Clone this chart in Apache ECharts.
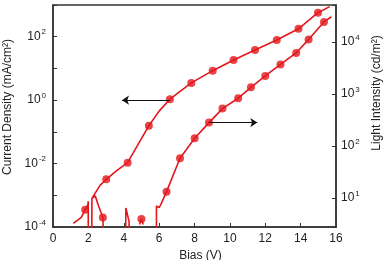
<!DOCTYPE html>
<html><head><meta charset="utf-8">
<script src="https://cdn.jsdelivr.net/npm/echarts@6/dist/echarts.min.js"></script>
<style>html,body{margin:0;padding:0;background:#fff}#c{width:384px;height:260px}</style>
</head><body><div id="c"></div>
<script>
// Bias (V) and current density (mA/cm^2); null breaks the trace
const currentV = [1.15, 1.6, 1.82, 1.97, 1.99, 2.0, null,
  2.19, 2.2, 2.39, 2.55, 2.82, 2.88, null,
  2.2, 2.67, 3.01, 3.6, 4.22, 4.94, 5.42, 6.0, 6.61, 7.82, 9.03, 10.21, 11.42, 12.65, 13.88, 14.98, 15.64, null,
  4.1, 4.12, 4.2, 4.3, 4.32, null,
  4.9, 5.0, 5.1];
const currentJ = [1.3e-4, 2.0e-4, 3.5e-4, 5e-4, 6.5e-4, 1e-5, null,
  1e-5, 8e-4, 9.5e-4, 5e-4, 2e-4, 1e-5, null,
  8e-4, 2.1e-3, 3.2e-3, 6e-3, 1.07e-2, 5.4e-2, 0.155, 0.45, 1.07, 3.5, 8.5, 18.5, 38, 79, 178, 570, 890, null,
  1e-5, 4e-4, 3.5e-4, 1.5e-4, 1e-5, null,
  1.2e-4, 1.8e-4, 1.2e-4];
const currentMarkV = [1.82, 2.82, 3.01, 4.22, 5.0, 5.42, 6.61, 7.82, 9.03, 10.21, 11.42, 12.65, 13.88, 14.98];
const currentMarkJ = [3.5e-4, 2.0e-4, 3.2e-3, 1.07e-2, 1.8e-4, 0.155, 1.07, 3.5, 8.5, 18.5, 38, 79, 178, 570];
// Bias (V) and light intensity (cd/m^2)
const lightV = [5.84, 5.85, 6.0, 6.1, 6.42, 7.18, 8.01, 8.82, 9.58, 10.47, 11.19, 12.0, 12.86, 13.75, 14.45, 15.32, 15.74];
const lightL = [0.1, 7.0, 6.5, 7.5, 13.2, 58, 141, 282, 525, 832, 1350, 2240, 3720, 6200, 11300, 24500, 30900];
const lightMarkV = [6.42, 7.18, 8.01, 8.82, 9.58, 10.47, 11.19, 12.0, 12.86, 13.75, 14.45, 15.32];
const lightMarkL = [13.2, 58, 141, 282, 525, 832, 1350, 2240, 3720, 6200, 11300, 24500];
// annotation arrows (from, to) in data units
const currentArrow = [[6.6, 1], [3.9, 1]];
const lightArrow = [[8.82, 282], [11.55, 282]];
// labelled exponents
const leftTickExps = [-4, -2, 0, 2];
const rightTickExps = [1, 2, 3, 4];

const RED = '#e3161c';
const FONT = 'Liberation Sans, Arial, sans-serif';
const TXT = '#222';
const toData = (xs, ys) => xs.map((x, i) => (x === null ? ['-', '-'] : [x, ys[i]]));
const expLabel = (list) => (v) => {
  const e = Math.log10(v), r = Math.round(e);
  if (Math.abs(e - r) > 0.01 || list.indexOf(r) < 0) return '';
  return '{b|10}{s|' + r + '}';
};
const rich = {
  b: { fontSize: 12, fontFamily: FONT, color: TXT },
  s: { fontSize: 8, fontFamily: FONT, color: TXT, padding: [0, 0, 9, 1] }
};
const axisLine = { show: true, lineStyle: { color: '#333', width: 1.5 } };
const tick = { show: true, inside: true, length: 4, lineStyle: { color: '#333', width: 1 } };
const arrowLine = (arr) => ({
  silent: true, symbol: ['none', 'arrow'], symbolSize: 7, label: { show: false },
  lineStyle: { color: '#111', width: 1, type: 'solid' }, itemStyle: { color: '#111' },
  data: [[{ coord: arr[0] }, { coord: arr[1] }]]
});

const chart = echarts.init(document.getElementById('c'));
chart.setOption({
  animation: false,
  backgroundColor: '#fff',
  grid: { left: 53, right: 48, top: 5, bottom: 33, show: true, borderColor: '#333', borderWidth: 1.5,
    containLabel: false, outerBoundsMode: 'none' },
  xAxis: {
    type: 'value', min: 0, max: 16, interval: 2,
    axisLine, axisTick: tick, splitLine: { show: false },
    axisLabel: { fontSize: 12, fontFamily: FONT, color: TXT, margin: 6 },
    name: 'Bias (V)', nameLocation: 'middle', nameGap: 19,
    nameTextStyle: { fontSize: 12, fontFamily: FONT, color: TXT, padding: [0, 0, 0, 12] }
  },
  yAxis: [{
    type: 'log', logBase: 10, min: 1e-4, max: 1e3, interval: 1,
    axisLine, axisTick: tick, splitLine: { show: false }, minorTick: { show: false },
    axisLabel: { formatter: expLabel(leftTickExps), rich, margin: 7 },
    name: 'Current Density (mA/cm²)', nameLocation: 'middle', nameGap: 37, nameRotate: 90,
    nameTextStyle: { fontSize: 12, fontFamily: FONT, color: TXT, padding: [0, 0, 0, 18] }
  }, {
    type: 'log', logBase: 10, min: 2.75, max: 52000, position: 'right',
    axisLine, axisTick: tick, splitLine: { show: false },
    axisLabel: { formatter: expLabel(rightTickExps), rich, margin: 5 },
    name: 'Light Intensity (cd/m²)', nameLocation: 'middle', nameGap: 31, nameRotate: 90,
    nameTextStyle: { fontSize: 12, fontFamily: FONT, color: TXT, padding: [0, 0, 0, 46] }
  }],
  series: [{
    type: 'line', yAxisIndex: 0, data: toData(currentV, currentJ), showSymbol: false,
    lineStyle: { color: RED, width: 1.6 }, itemStyle: { color: RED }, clip: true,
    markLine: arrowLine(currentArrow)
  }, {
    type: 'scatter', yAxisIndex: 0, data: toData(currentMarkV, currentMarkJ),
    symbol: 'circle', symbolSize: 8, itemStyle: { color: RED }
  }, {
    type: 'line', yAxisIndex: 1, data: toData(lightV, lightL), showSymbol: false,
    lineStyle: { color: RED, width: 1.6 }, itemStyle: { color: RED }, clip: true,
    markLine: arrowLine(lightArrow)
  }, {
    type: 'scatter', yAxisIndex: 1, data: toData(lightMarkV, lightMarkL),
    symbol: 'circle', symbolSize: 8, itemStyle: { color: RED }
  }]
});
</script></body></html>
